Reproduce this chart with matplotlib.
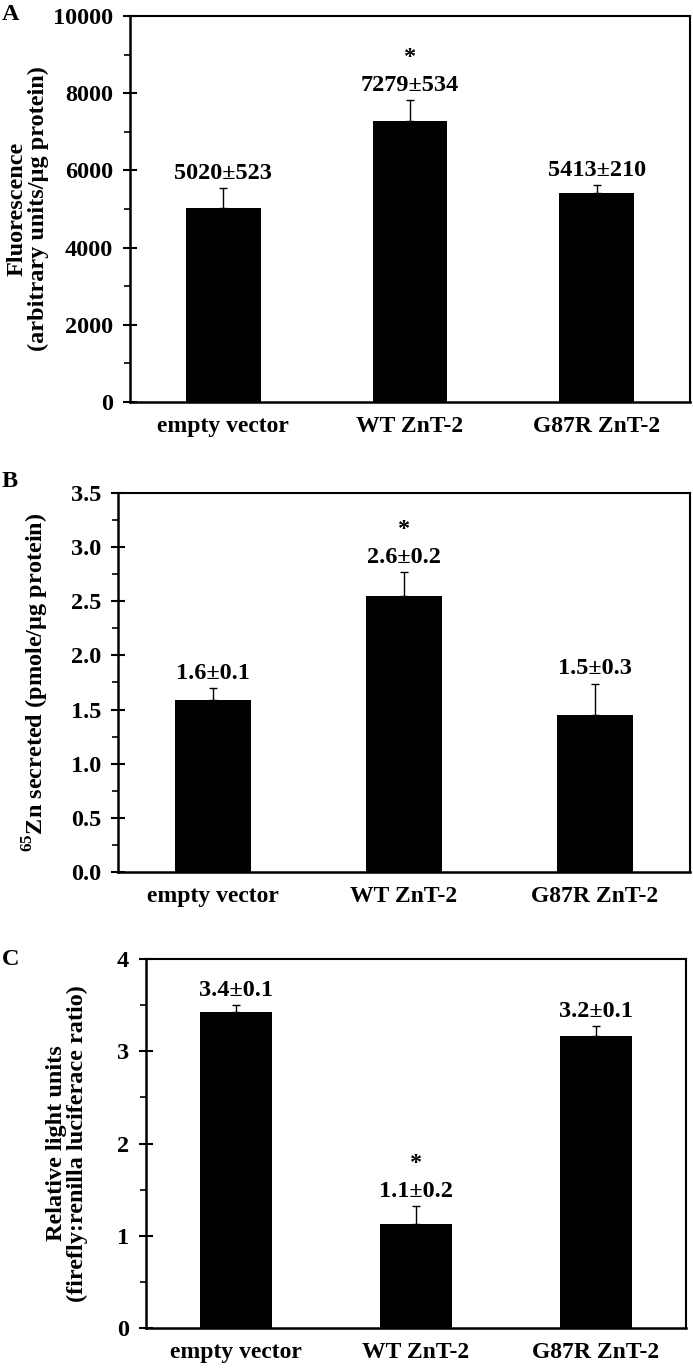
import matplotlib
matplotlib.use("Agg")
import matplotlib.pyplot as plt
from matplotlib.ticker import MultipleLocator

plt.rcParams['font.family'] = ['Liberation Serif', 'DejaVu Serif']
plt.rcParams['font.weight'] = 'bold'
plt.rcParams['mathtext.fontset'] = 'custom'
plt.rcParams['mathtext.rm'] = 'Liberation Serif:bold'
plt.rcParams['mathtext.bf'] = 'Liberation Serif:bold'

categories = ["empty vector", "WT ZnT-2", "G87R ZnT-2"]

a_values = [5020, 7279, 5413]
a_errors = [523, 534, 210]
a_labels = ["5020±523", "7279±534", "5413±210"]
a_sig = [False, True, False]

b_values = [1.59, 2.55, 1.45]
b_errors = [0.11, 0.22, 0.29]
b_labels = ["1.6±0.1", "2.6±0.2", "1.5±0.3"]
b_sig = [False, True, False]

c_values = [3.42, 1.13, 3.17]
c_errors = [0.08, 0.19, 0.10]
c_labels = ["3.4±0.1", "1.1±0.2", "3.2±0.1"]
c_sig = [False, True, False]

fig = plt.figure(figsize=(6.93, 13.68), dpi=100)

panels = [
    dict(pos=[0.1876, 0.7061, 0.8081, 0.2822], vals=a_values, errs=a_errors, labs=a_labels, sig=a_sig,
         ylim=(0, 10000), major=2000, minor=1000, fmt="{:.0f}",
         ylabel="Fluorescence\n(arbitrary units/µg protein)", ylx=-0.145,
         letter="A", lx=0.002, ly=0.997),
    dict(pos=[0.1703, 0.3626, 0.8254, 0.2770], vals=b_values, errs=b_errors, labs=b_labels, sig=b_sig,
         ylim=(0, 3.5), major=0.5, minor=0.25, fmt="{:.1f}",
         ylabel="$^{65}$Zn secreted (pmole/µg protein)", ylx=-0.118,
         letter="B", lx=0.002, ly=0.656),
    dict(pos=[0.2107, 0.0292, 0.7792, 0.2698], vals=c_values, errs=c_errors, labs=c_labels, sig=c_sig,
         ylim=(0, 4), major=1, minor=0.5, fmt="{:.0f}",
         ylabel="Relative light units\n(firefly:renilla luciferace ratio)", ylx=-0.107,
         letter="C", lx=0.002, ly=0.306),
]

fs = 17.5
for p in panels:
    ax = fig.add_axes(p['pos'])
    x = list(range(len(categories)))
    ax.bar(x, p['vals'], width=0.4, color='black', zorder=2)
    ax.errorbar(x, p['vals'], yerr=[[0]*3, p['errs']], fmt='none', ecolor='black',
                elinewidth=1.0, capsize=3, capthick=1.0, zorder=1)
    ax.set_xlim(-0.5, 2.5)
    ax.set_ylim(*p['ylim'])
    ax.yaxis.set_major_locator(MultipleLocator(p['major']))
    ax.yaxis.set_minor_locator(MultipleLocator(p['minor']))
    ax.set_yticklabels([p['fmt'].format(t) for t in ax.get_yticks()])
    ax.tick_params(axis='y', which='major', direction='inout', length=10, width=1.5,
                   labelsize=fs, pad=7)
    ax.tick_params(axis='y', which='minor', direction='out', length=4, width=1.2)
    ax.set_xticks(x)
    ax.set_xticklabels(categories, fontsize=17, fontweight='bold')
    ax.tick_params(axis='x', length=0, pad=10)
    for s in ['left', 'bottom']:
        ax.spines[s].set_linewidth(1.8)
    for s in ['top', 'right']:
        ax.spines[s].set_linewidth(1.5)
    ax.set_ylabel(p['ylabel'], fontsize=17.5, fontweight='bold', linespacing=1.0)
    ax.yaxis.set_label_coords(p['ylx'], 0.5)
    for xi, v, e, lab, sg in zip(x, p['vals'], p['errs'], p['labs'], p['sig']):
        ax.annotate(lab, (xi, v + e), xytext=(0, 3), textcoords='offset points',
                    ha='center', va='bottom', fontsize=fs, fontweight='bold')
        if sg:
            ax.annotate("*", (xi, v + e), xytext=(0, 23), textcoords='offset points',
                        ha='center', va='bottom', fontsize=fs, fontweight='bold')
    fig.text(p['lx'], p['ly'], p['letter'], fontsize=fs, fontweight='bold', ha='left', va='top')

fig.savefig("out.png", dpi=100)
